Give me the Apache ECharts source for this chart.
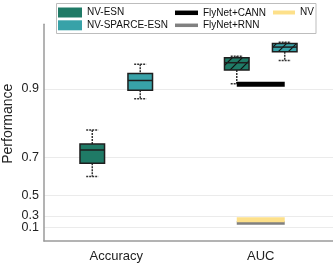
<!DOCTYPE html>
<html><head><meta charset="utf-8">
<script src="https://cdn.jsdelivr.net/npm/echarts@6/dist/echarts.min.js"></script>
<style>html,body{margin:0;padding:0;background:#fff}#c{width:333px;height:266px}</style>
</head><body><div id="c"></div>
<script>
// ---- data ----
const categories = ['Accuracy', 'AUC'];
// box statistics per category: [min, q1, median, q3, max]
const nvEsnBoxes = [[0.614, 0.677, 0.729, 0.750, 0.795], [0.911, 0.939, 0.953, 0.962, 0.965]];
const nvSparceBoxes = [[0.878, 0.897, 0.918, 0.932, 0.950], [0.957, 0.973, 0.981, 0.987, 0.989]];
const hatched = [false, true];
const flyCann = [null, 0.910];
const flyRnn = [null, 0.19];
const nvValues = [null, 0.245];
const yTicks = [0.1, 0.3, 0.5, 0.7, 0.9];

// exponential display scale used by the y axis
const K = 3;
const fwd = v => Math.exp(K * v);
const inv = t => Math.log(t) / K;

function makePattern(color) {
  const c = document.createElement('canvas');
  c.width = 10; c.height = 10;
  const g = c.getContext('2d');
  g.fillStyle = color; g.fillRect(0, 0, 10, 10);
  g.strokeStyle = '#111'; g.lineWidth = 1.2;
  g.beginPath();
  g.moveTo(0, 10); g.lineTo(10, 0);
  g.moveTo(-5, 5); g.lineTo(5, -5);
  g.moveTo(5, 15); g.lineTo(15, 5);
  g.stroke();
  return { image: c, repeat: 'repeat' };
}

function boxSeries(name, boxes, color, side) {
  const pat = makePattern(color);
  return {
    type: 'custom', name: name, coordinateSystem: 'cartesian2d', z: 2,
    data: boxes.map((b, i) => [i].concat(b.map(fwd)).concat([hatched[i] ? 1 : 0])),
    encode: { x: 0, y: [1, 2, 3, 4, 5] },
    renderItem: function (params, api) {
      const bw = api.size([1, 0])[0];
      const ci = api.value(0);
      const off = side * bw * 0.166;
      const hw = bw * 0.085, cw = bw * 0.042;
      const ys = [1, 2, 3, 4, 5].map(d => api.coord([ci, api.value(d)])[1]);
      const x = api.coord([ci, api.value(1)])[0] + off;
      const hatch = api.value(6) === 1;
      const dark = '#1e1e1e';
      const ws = { stroke: '#333', lineWidth: 1.5, lineDash: [2, 1] };
      return { type: 'group', children: [
        { type: 'line', shape: { x1: x, y1: ys[4], x2: x, y2: ys[3] }, style: ws },
        { type: 'line', shape: { x1: x, y1: ys[1], x2: x, y2: ys[0] }, style: ws },
        { type: 'line', shape: { x1: x - cw, y1: ys[4], x2: x + cw, y2: ys[4] }, style: ws },
        { type: 'line', shape: { x1: x - cw, y1: ys[0], x2: x + cw, y2: ys[0] }, style: ws },
        { type: 'rect', shape: { x: x - hw, y: ys[3], width: 2 * hw, height: ys[1] - ys[3] },
          style: { fill: hatch ? pat : color, stroke: dark, lineWidth: 1.5 } },
        { type: 'line', shape: { x1: x - hw, y1: ys[2], x2: x + hw, y2: ys[2] }, style: { stroke: dark, lineWidth: 1.5 } }
      ] };
    }
  };
}

function segSeries(name, vals, color, width, z) {
  const data = [];
  vals.forEach((v, i) => { if (v != null) data.push([i, fwd(v)]); });
  return {
    type: 'custom', name: name, coordinateSystem: 'cartesian2d', z: z,
    itemStyle: { color: color },
    data: data,
    encode: { x: 0, y: 1 },
    renderItem: function (params, api) {
      const bw = api.size([1, 0])[0];
      const p = api.coord([api.value(0), api.value(1)]);
      const off = bw * 0.166;
      return { type: 'line', shape: { x1: p[0] - off, y1: p[1], x2: p[0] + off, y2: p[1] },
        style: { stroke: color, lineWidth: width, lineCap: 'butt' } };
    }
  };
}

const colNvEsn = '#1f7a66', colSparce = '#38a2a8', colCann = '#000000', colRnn = '#808080', colNv = '#fde08a';

const legendBase = { orient: 'horizontal', padding: 0, itemGap: 0, selectedMode: false,
  textStyle: { fontSize: 10, color: '#111', fontFamily: 'Liberation Sans' } };

const labelStyle = { formatter: v => inv(v).toFixed(1), fontSize: 12.5, color: '#222', margin: 5, hideOverlap: false };

const chart = echarts.init(document.getElementById('c'), null, { renderer: 'canvas' });
chart.setOption({
  animation: false,
  backgroundColor: '#fff',
  textStyle: { fontFamily: 'Liberation Sans' },
  graphic: [{ type: 'rect', z: 0, shape: { x: 56.5, y: 3.5, width: 259.5, height: 30 },
    style: { fill: '#fff', stroke: '#bdbdbd', lineWidth: 1 } }],
  legend: [
    Object.assign({}, legendBase, { left: 58, top: 7.5, itemWidth: 24, itemHeight: 10,
      data: [{ name: 'NV-ESN', icon: 'rect', itemStyle: { color: colNvEsn, borderWidth: 0 } }] }),
    Object.assign({}, legendBase, { left: 58, top: 20.3, itemWidth: 24, itemHeight: 10,
      data: [{ name: 'NV-SPARCE-ESN', icon: 'rect', itemStyle: { color: colSparce, borderWidth: 0 } }] }),
    Object.assign({}, legendBase, { left: 175, top: 7.8, itemWidth: 23, itemHeight: 4.5,
      data: [{ name: 'FlyNet+CANN', icon: 'rect', itemStyle: { color: colCann, borderWidth: 0 } }] }),
    Object.assign({}, legendBase, { left: 175, top: 20.3, itemWidth: 23, itemHeight: 3.5,
      data: [{ name: 'FlyNet+RNN', icon: 'rect', itemStyle: { color: colRnn, borderWidth: 0 } }] }),
    Object.assign({}, legendBase, { left: 273, top: 7.5, itemWidth: 22, itemHeight: 4,
      data: [{ name: 'NV', icon: 'rect', itemStyle: { color: colNv, borderWidth: 0 } }] })
  ],
  grid: { left: 44, right: 0, top: 24.3, bottom: 24.9, containLabel: false, outerBoundsMode: 'none' },
  xAxis: {
    type: 'category', data: categories, boundaryGap: true,
    axisLine: { show: true, lineStyle: { color: '#9a9a9a', width: 1.5 } },
    axisTick: { show: false },
    axisLabel: { fontSize: 13, color: '#222', margin: 9 },
    splitLine: { show: false }
  },
  yAxis: [{
    type: 'value', min: 0, max: 21.2, position: 'left',
    name: 'Performance', nameLocation: 'middle', nameGap: 29, nameMoveOverlap: false,
    nameTextStyle: { fontSize: 14, color: '#222', padding: [0, 0, 0, 18] },
    axisLine: { show: true, lineStyle: { color: '#9a9a9a', width: 1.5 } },
    axisTick: { show: false, customValues: yTicks.map(fwd) },
    axisLabel: Object.assign({ customValues: yTicks.filter((v, i) => i !== 1).map(fwd) }, labelStyle),
    splitLine: { show: true, lineStyle: { color: '#ebebeb', width: 1 } }
  }, {
    type: 'value', min: 0, max: 21.2, position: 'left', offset: 0,
    axisLine: { show: false }, splitLine: { show: false },
    axisTick: { show: false, customValues: [fwd(yTicks[1])] },
    axisLabel: Object.assign({ customValues: [fwd(yTicks[1])] }, labelStyle)
  }],
  series: [
    boxSeries('NV-ESN', nvEsnBoxes, colNvEsn, -1),
    boxSeries('NV-SPARCE-ESN', nvSparceBoxes, colSparce, 1),
    segSeries('FlyNet+CANN', flyCann, colCann, 5, 3),
    segSeries('FlyNet+RNN', flyRnn, colRnn, 3.5, 3),
    segSeries('NV', nvValues, colNv, 5, 4)
  ]
});
</script>
</body></html>
